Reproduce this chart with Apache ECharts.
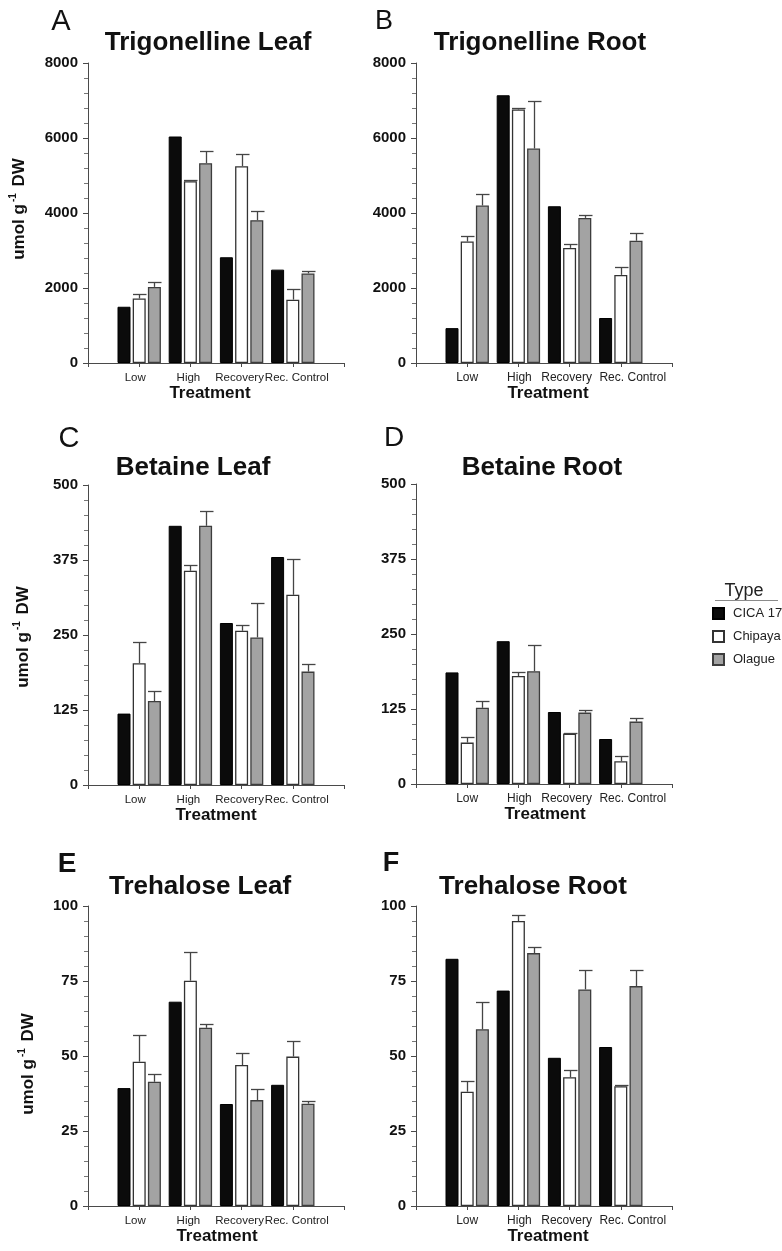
<!DOCTYPE html>
<html>
<head>
<meta charset="utf-8">
<script src="https://cdn.jsdelivr.net/npm/echarts@6/dist/echarts.min.js"></script>
<style>
  html, body { margin: 0; padding: 0; background: #fff; }
  #chart { width: 782px; height: 1251px; }
</style>
</head>
<body>
<div id="chart"></div>
<script>
// ---- data: osmolyte content (umol g-1 DW) per treatment and quinoa type ----
const treatments = ['Low', 'High', 'Recovery', 'Rec. Control'];
const types = ['CICA 17', 'Chipaya', 'Olague'];

// Trigonelline, leaf
const trigLeafCica = [1500, 6040, 2820, 2490];
const trigLeafChipaya = [1720, 4850, 5250, 1690];
const trigLeafChipayaErr = [130, 20, 320, 275];
const trigLeafOlague = [2030, 5330, 3810, 2390];
const trigLeafOlagueErr = [130, 330, 250, 70];

// Trigonelline, root
const trigRootCica = [930, 7140, 4180, 1200];
const trigRootChipaya = [3240, 6760, 3070, 2350];
const trigRootChipayaErr = [150, 40, 100, 200];
const trigRootOlague = [4200, 5720, 3870, 3260];
const trigRootOlagueErr = [310, 1280, 90, 220];

// Betaine, leaf
const betLeafCica = [119, 432, 270, 380];
const betLeafChipaya = [203, 357, 257, 317];
const betLeafChipayaErr = [35, 9, 9, 59];
const betLeafOlague = [140, 432, 246, 189];
const betLeafOlagueErr = [17, 24, 57, 12];

// Betaine, root
const betRootCica = [186, 238, 120, 75];
const betRootChipaya = [69, 180, 84, 38];
const betRootChipayaErr = [9, 7, 1, 8];
const betRootOlague = [127, 188, 119, 104];
const betRootOlagueErr = [12, 43, 5, 6];

// Trehalose, leaf
const treLeafCica = [39.3, 68.1, 34.0, 40.4];
const treLeafChipaya = [48.1, 75.1, 47.0, 49.8];
const treLeafChipayaErr = [8.8, 9.7, 4.1, 5.3];
const treLeafOlague = [41.4, 59.4, 35.3, 34.1];
const treLeafOlagueErr = [2.7, 1.2, 3.8, 1.0];

// Trehalose, root
const treRootCica = [82.4, 71.8, 49.4, 53.0];
const treRootChipaya = [38.1, 95.0, 42.9, 39.9];
const treRootChipayaErr = [3.5, 2.0, 2.3, 0.6];
const treRootOlague = [58.9, 84.3, 72.2, 73.3];
const treRootOlagueErr = [9.1, 1.9, 6.6, 5.5];

// y-axis ranges
const trigMax = 8000, betMax = 500, treMax = 100;

// ---- layout & styling ----
const FONT = '"Liberation Sans", Arial, Helvetica, sans-serif';
const BAR_W = 13;
const BAR_GAP = 2.2;
const AXIS_COLOR = '#4a4a4a';
const ERR_COLOR = '#454545';

const barStyles = [
  { color: '#0b0b0b', borderColor: '#000', borderWidth: 1 },
  { color: '#ffffff', borderColor: '#333', borderWidth: 1.3 },
  { color: '#a3a3a3', borderColor: '#3d3d3d', borderWidth: 1.3 }
];

// horizontal nudges (px) of the treatment labels relative to their ticks
const leftLabelShift = [-4, -2, -2, 4];
const rightLabelShift = [0, 1, -3, 12];

const panels = [
  { letter: 'A', title: 'Trigonelline Leaf', vals: [trigLeafCica, trigLeafChipaya, trigLeafOlague],
    errs: [null, trigLeafChipayaErr, trigLeafOlagueErr], yMax: trigMax,
    left: 88, top: 63, titleX: 208, titleY: 43, letterX: 61, letterY: 22, letterSize: 29, letterBold: false,
    yName: [19, 209], nameShift: -6, labelShift: leftLabelShift, labelSize: 11.5 },
  { letter: 'B', title: 'Trigonelline Root', vals: [trigRootCica, trigRootChipaya, trigRootOlague],
    errs: [null, trigRootChipayaErr, trigRootOlagueErr], yMax: trigMax,
    left: 416, top: 63, titleX: 540, titleY: 43, letterX: 384, letterY: 22, letterSize: 27, letterBold: false,
    yName: null, nameShift: 4, labelShift: rightLabelShift, labelSize: 12 },
  { letter: 'C', title: 'Betaine Leaf', vals: [betLeafCica, betLeafChipaya, betLeafOlague],
    errs: [null, betLeafChipayaErr, betLeafOlagueErr], yMax: betMax,
    left: 88, top: 485, titleX: 193, titleY: 468, letterX: 69, letterY: 439, letterSize: 29, letterBold: false,
    yName: [23, 637], nameShift: 0, labelShift: leftLabelShift, labelSize: 11.5 },
  { letter: 'D', title: 'Betaine Root', vals: [betRootCica, betRootChipaya, betRootOlague],
    errs: [null, betRootChipayaErr, betRootOlagueErr], yMax: betMax,
    left: 416, top: 484, titleX: 542, titleY: 468, letterX: 394, letterY: 438, letterSize: 28, letterBold: false,
    yName: null, nameShift: 1, labelShift: rightLabelShift, labelSize: 12 },
  { letter: 'E', title: 'Trehalose Leaf', vals: [treLeafCica, treLeafChipaya, treLeafOlague],
    errs: [null, treLeafChipayaErr, treLeafOlagueErr], yMax: treMax,
    left: 88, top: 906, titleX: 200, titleY: 887, letterX: 67, letterY: 864, letterSize: 28, letterBold: true,
    yName: [28, 1064], nameShift: 1, labelShift: leftLabelShift, labelSize: 11.5 },
  { letter: 'F', title: 'Trehalose Root', vals: [treRootCica, treRootChipaya, treRootOlague],
    errs: [null, treRootChipayaErr, treRootOlagueErr], yMax: treMax,
    left: 416, top: 906, titleX: 533, titleY: 887, letterX: 391, letterY: 864, letterSize: 27, letterBold: true,
    yName: null, nameShift: 4, labelShift: rightLabelShift, labelSize: 12 }
];

function shiftPadding(d) {
  return d < 0 ? [0, -2 * d, 0, 0] : [0, 0, 0, 2 * d];
}

// category slots: empty slot at each end so groups sit between axis ends
function axisCats(shifts, size) {
  return ['', ...treatments.map((t, i) => ({
    value: t,
    textStyle: { fontSize: size, padding: shiftPadding(shifts[i]) }
  })), ''];
}

function renderErrorBar(params, api) {
  const cat = api.value(0);
  const v = api.value(1);
  const e = api.value(2);
  const s = api.value(3);
  const dx = (s - 1) * (BAR_W + BAR_GAP);
  const base = api.coord([cat, v]);
  const tip = api.coord([cat, v + e]);
  const x = Math.round(base[0] + dx) + 0.5;
  const yt = Math.round(tip[1]) + 0.5;
  return {
    type: 'group',
    children: [
      { type: 'line', shape: { x1: x, y1: base[1], x2: x, y2: yt },
        style: { stroke: ERR_COLOR, lineWidth: 1.3 } },
      { type: 'line', shape: { x1: x - 6.5, y1: yt, x2: x + 7, y2: yt },
        style: { stroke: ERR_COLOR, lineWidth: 1.3 } }
    ]
  };
}

const grids = [], xAxes = [], yAxes = [], series = [], graphics = [];

panels.forEach((p, pi) => {
  grids.push({ left: p.left, top: p.top, width: 256, height: 300, containLabel: false });

  xAxes.push({
    type: 'category', gridIndex: pi, data: axisCats(p.labelShift, p.labelSize), boundaryGap: false,
    axisLine: { lineStyle: { color: AXIS_COLOR, width: 1 } },
    axisTick: { show: true, interval: 0, length: 4, lineStyle: { color: AXIS_COLOR } },
    axisLabel: { interval: 0, fontFamily: FONT, fontSize: p.labelSize, color: '#222', margin: 9, hideOverlap: false },
    splitLine: { show: false },
    name: 'Treatment', nameLocation: 'middle', nameGap: 22,
    nameTextStyle: {
      fontFamily: FONT, fontSize: 17, fontWeight: 'bold', color: '#111',
      padding: shiftPadding(p.nameShift)
    }
  });

  yAxes.push({
    type: 'value', gridIndex: pi, min: 0, max: p.yMax, interval: p.yMax / 4,
    axisLine: { show: true, lineStyle: { color: AXIS_COLOR, width: 1 } },
    axisTick: { show: true, length: 5, lineStyle: { color: AXIS_COLOR } },
    minorTick: { show: true, splitNumber: 5, length: 4, lineStyle: { color: '#777' } },
    axisLabel: { fontFamily: FONT, fontSize: 15, fontWeight: 'bold', color: '#111', margin: 10,
      formatter: (v) => String(v) },
    splitLine: { show: false }
  });

  p.vals.forEach((arr, s) => {
    series.push({
      type: 'bar', name: types[s], xAxisIndex: pi, yAxisIndex: pi,
      barWidth: BAR_W, barGap: (BAR_GAP / BAR_W * 100).toFixed(1) + '%',
      data: arr.map((v, i) => [i + 1, v]),
      itemStyle: barStyles[s],
      emphasis: { disabled: true },
      animation: false
    });
  });

  p.errs.forEach((arr, s) => {
    if (!arr) return;
    series.push({
      type: 'custom', xAxisIndex: pi, yAxisIndex: pi, z: 5,
      renderItem: renderErrorBar,
      encode: { x: 0, y: 1 },
      data: arr.map((e, i) => [i + 1, p.vals[s][i], e, s]),
      silent: true, animation: false
    });
  });

  // panel letter
  graphics.push({
    type: 'text', x: p.letterX, y: p.letterY,
    style: { text: p.letter, fontFamily: FONT, fontSize: p.letterSize,
      fontWeight: p.letterBold ? 'bold' : 'normal', fill: '#111', align: 'center', verticalAlign: 'middle' }
  });
  // panel title
  graphics.push({
    type: 'text', x: p.titleX, y: p.titleY,
    style: { text: p.title, fontFamily: FONT, fontSize: 26, fontWeight: 'bold', fill: '#111',
      align: 'center', verticalAlign: 'middle' }
  });
  // y-axis unit label with superscript
  if (p.yName) {
    graphics.push({
      type: 'text', x: p.yName[0], y: p.yName[1], rotation: Math.PI / 2,
      style: {
        text: 'umol g{sup|-1} DW', fontFamily: FONT, fontSize: 17, fontWeight: 'bold', fill: '#111',
        lineHeight: 22, align: 'center', verticalAlign: 'middle',
        rich: {
          sup: { fontFamily: FONT, fontSize: 10, fontWeight: 'bold', fill: '#111', verticalAlign: 'top', lineHeight: 12, padding: [0, 2, 0, 2] }
        }
      }
    });
  }
});

// legend heading
graphics.push({
  type: 'text', x: 744, y: 591,
  style: { text: 'Type', fontFamily: FONT, fontSize: 18, fill: '#222', align: 'center', verticalAlign: 'middle' }
});
graphics.push({
  type: 'line', shape: { x1: 715, y1: 600.5, x2: 778, y2: 600.5 },
  style: { stroke: '#8a8a8a', lineWidth: 1 }
});

const chart = echarts.init(document.getElementById('chart'), null, { renderer: 'canvas' });
chart.setOption({
  backgroundColor: '#ffffff',
  animation: false,
  grid: grids,
  xAxis: xAxes,
  yAxis: yAxes,
  series: series,
  legend: {
    data: types, orient: 'vertical', left: 712, top: 607, padding: 0,
    itemWidth: 11, itemHeight: 11, itemGap: 10, icon: 'rect',
    selectedMode: false,
    textStyle: { fontFamily: FONT, fontSize: 13, color: '#222', padding: [0, 0, 0, 4] }
  },
  graphic: graphics
});
</script>
</body>
</html>
